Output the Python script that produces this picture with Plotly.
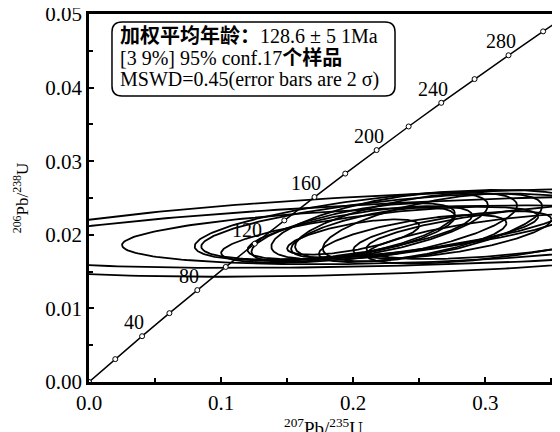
import numpy as np
import plotly.graph_objects as go

# Concordia points (ages in Ma) and their ratios
conc_age = [0, 20, 40, 60, 80, 100, 120, 140, 160, 180, 200, 220, 240, 260, 280, 300, 320]
conc_x = [0.0, 0.019892, 0.040180, 0.060872, 0.081975, 0.103498, 0.125448, 0.147837,
          0.170669, 0.193958, 0.217708, 0.241931, 0.266636, 0.291832, 0.317529, 0.343737, 0.370468]
conc_y = [0.0, 0.0031073, 0.0062243, 0.0093509, 0.012487, 0.015633, 0.018789, 0.021955,
          0.025131, 0.028316, 0.031511, 0.034717, 0.037932, 0.041157, 0.044392, 0.047638, 0.050893]
label_ages = [40, 80, 120, 160, 200, 240, 280]

# Error ellipses (2 sigma): centre, half-widths, correlation
ell_cx = [0.250, 0.260, 0.300, 0.225, 0.230, 0.220, 0.205, 0.220, 0.240, 0.260,
          0.200, 0.215, 0.245, 0.275, 0.310, 0.330, 0.200]
ell_cy = [0.0200, 0.0203, 0.0205, 0.0213, 0.0211, 0.0200, 0.0203, 0.0212, 0.0212, 0.0210,
          0.0203, 0.0203, 0.0195, 0.0200, 0.0195, 0.0205, 0.0197]
ell_sx = [0.225, 0.360, 0.380, 0.145, 0.145, 0.120, 0.085, 0.082, 0.084, 0.083,
          0.077, 0.062, 0.071, 0.075, 0.100, 0.120, 0.050]
ell_sy = [0.0040, 0.0060, 0.0050, 0.0048, 0.0045, 0.0038, 0.0036, 0.0045, 0.0045, 0.0046,
          0.0040, 0.0034, 0.0032, 0.0032, 0.0034, 0.0038, 0.0024]
ell_rho = [0.35, 0.45, 0.50, 0.60, 0.60, 0.65, 0.65, 0.62, 0.62, 0.62,
           0.65, 0.65, 0.65, 0.65, 0.65, 0.62, 0.65]

info_lines = ["<b>加权平均年龄：</b>128.6 ± 5 1Ma",
              "[3 9%] 95% conf.17<b>个样品</b>",
              "MSWD=0.45(error bars are 2 σ)"]

SERIF = "Liberation Serif, Times New Roman, serif"
TXTFONT = "Liberation Serif, Noto Sans CJK SC, serif"

fig = go.Figure()

t = np.linspace(0, 2 * np.pi, 240)
for cx, cy, sx, sy, r in zip(ell_cx, ell_cy, ell_sx, ell_sy, ell_rho):
    ex = cx + sx * np.cos(t)
    ey = cy + sy * (r * np.cos(t) + np.sqrt(1 - r * r) * np.sin(t))
    fig.add_trace(go.Scatter(x=ex, y=ey, mode="lines",
                             line=dict(color="black", width=1.8),
                             hoverinfo="skip", showlegend=False))

fig.add_trace(go.Scatter(x=conc_x, y=conc_y, mode="lines+markers",
                         line=dict(color="black", width=1.5),
                         marker=dict(symbol="circle", size=5, color="white",
                                     line=dict(color="black", width=1)),
                         showlegend=False))

for a in label_ages:
    i = conc_age.index(a)
    fig.add_annotation(x=conc_x[i], y=conc_y[i], text=str(a), showarrow=False,
                       xshift=-8, yshift=14,
                       font=dict(family=SERIF, size=20, color="black"))

# info box
x0, x1, y0, y1 = 0.049, 0.6525, 0.777, 0.978
rx, ry = 0.0213, 0.0272
path = (f"M {x0+rx},{y1} L {x1-rx},{y1} Q {x1},{y1} {x1},{y1-ry} "
        f"L {x1},{y0+ry} Q {x1},{y0} {x1-rx},{y0} L {x0+rx},{y0} "
        f"Q {x0},{y0} {x0},{y0+ry} L {x0},{y1-ry} Q {x0},{y1} {x0+rx},{y1} Z")
fig.add_shape(type="path", path=path, xref="paper", yref="paper",
              line=dict(color="black", width=1.5), fillcolor="white", layer="above")
for txt, yy in zip(info_lines, [0.940, 0.880, 0.821]):
    fig.add_annotation(x=0.062, y=yy, xref="paper", yref="paper", text=txt,
                       showarrow=False, xanchor="left", yanchor="middle",
                       font=dict(family=TXTFONT, size=20, color="black"))

fig.update_layout(
    width=560, height=432,
    margin=dict(l=81, r=10, t=6, b=58),
    plot_bgcolor="white", paper_bgcolor="white",
    font=dict(family=SERIF, color="black"),
    xaxis=dict(range=[0, 0.355], dtick=0.1, tickformat=".1f", automargin=False,
               ticklabeloverflow="allow",
               ticks="inside", ticklen=5, tickwidth=2, tickcolor="black",
               minor=dict(ticks="inside", ticklen=4, dtick=0.05, tickcolor="black", tickwidth=2),
               showline=True, linecolor="black", linewidth=2.5, mirror=True,
               showgrid=False, zeroline=False,
               tickfont=dict(family=SERIF, size=21, color="black"),
               title=dict(text="<sup>207</sup>Pb/<sup>235</sup>U", standoff=0,
                          font=dict(family=SERIF, size=19, color="black"))),
    yaxis=dict(range=[0, 0.05], dtick=0.01, tickformat=".2f", automargin=False,
               ticklabeloverflow="allow",
               ticks="inside", ticklen=5, tickwidth=2, tickcolor="black",
               minor=dict(ticks="inside", ticklen=4, dtick=0.005, tickcolor="black", tickwidth=2),
               showline=True, linecolor="black", linewidth=2.5, mirror=True,
               showgrid=False, zeroline=False,
               tickfont=dict(family=SERIF, size=21, color="black"),
               title=dict(text="<sup>206</sup>Pb/<sup>238</sup>U", standoff=13,
                          font=dict(family=SERIF, size=17, color="black"))),
)

fig.write_html("out.html")
